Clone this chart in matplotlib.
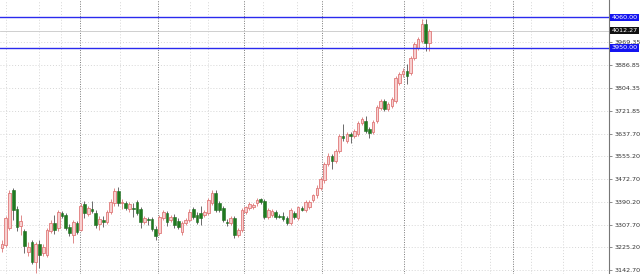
import numpy as np
import matplotlib
matplotlib.use('Agg')
from matplotlib import pyplot as plt
import matplotlib.transforms as mtransforms

# OHLC values (one candle per bar)
opens = [3222, 3233, 3294, 3432, 3363, 3302, 3284, 3208, 3244, 3172,
         3237, 3204, 3197, 3284, 3312, 3294, 3349, 3341, 3298, 3269,
         3312, 3287, 3381, 3345, 3363, 3349, 3309, 3323, 3316, 3352,
         3385, 3428, 3385, 3385, 3363, 3367, 3388, 3363, 3316, 3327,
         3327, 3291, 3276, 3331, 3349, 3323, 3334, 3320, 3280, 3312,
         3323, 3363, 3341, 3349, 3341, 3349, 3385, 3424, 3385, 3367,
         3316, 3312, 3331, 3269, 3287, 3352, 3367, 3370, 3385, 3399,
         3392, 3334, 3341, 3352, 3338, 3338, 3331, 3312, 3348, 3330,
         3367, 3359, 3370, 3396, 3414, 3439, 3468, 3529, 3558, 3540,
         3576, 3630, 3612, 3638, 3630, 3638, 3677, 3685, 3656, 3645,
         3685, 3731, 3757, 3728, 3739, 3757, 3822, 3854, 3865, 3858,
         3912, 3948, 3973, 4035, 3966]
closes = [3237, 3331, 3424, 3359, 3298, 3320, 3229, 3226, 3172, 3237,
          3197, 3226, 3287, 3312, 3287, 3352, 3338, 3294, 3276, 3316,
          3280, 3377, 3349, 3367, 3356, 3305, 3327, 3316, 3352, 3388,
          3428, 3385, 3388, 3367, 3381, 3363, 3349, 3316, 3331, 3323,
          3291, 3266, 3334, 3352, 3316, 3334, 3305, 3298, 3312, 3323,
          3352, 3334, 3316, 3331, 3352, 3396, 3424, 3359, 3359, 3323,
          3312, 3331, 3269, 3287, 3359, 3370, 3381, 3378, 3396, 3388,
          3334, 3359, 3356, 3334, 3334, 3327, 3312, 3359, 3334, 3370,
          3359, 3388, 3388, 3414, 3442, 3475, 3529, 3558, 3540, 3576,
          3630, 3623, 3638, 3630, 3648, 3677, 3692, 3648, 3641, 3681,
          3735, 3757, 3728, 3746, 3764, 3840, 3854, 3865, 3847, 3912,
          3963, 3981, 4038, 3966, 4012.27]
highs = [3251, 3338, 3435, 3439, 3377, 3341, 3291, 3244, 3251, 3244,
         3251, 3237, 3294, 3323, 3341, 3359, 3356, 3349, 3309, 3323,
         3320, 3385, 3392, 3374, 3392, 3359, 3338, 3338, 3359, 3399,
         3439, 3446, 3399, 3392, 3388, 3385, 3396, 3370, 3338, 3334,
         3334, 3302, 3341, 3359, 3356, 3341, 3345, 3331, 3320, 3331,
         3363, 3370, 3352, 3377, 3359, 3403, 3432, 3435, 3392, 3374,
         3327, 3338, 3338, 3294, 3367, 3377, 3388, 3385, 3406, 3406,
         3399, 3367, 3363, 3359, 3345, 3352, 3338, 3367, 3356, 3377,
         3374, 3396, 3396, 3420, 3450, 3482, 3536, 3569, 3565, 3583,
         3638, 3674, 3645, 3645, 3656, 3684, 3699, 3703, 3663, 3688,
         3742, 3764, 3764, 3753, 3771, 3847, 3861, 3876, 3890, 3919,
         3970, 3988, 4053, 4053, 4017]
lows = [3208, 3226, 3287, 3323, 3284, 3269, 3204, 3193, 3164, 3133,
        3150, 3193, 3190, 3276, 3273, 3284, 3331, 3287, 3266, 3240,
        3273, 3284, 3331, 3338, 3349, 3294, 3287, 3298, 3309, 3345,
        3377, 3377, 3363, 3359, 3352, 3334, 3341, 3294, 3309, 3305,
        3284, 3251, 3269, 3323, 3302, 3316, 3294, 3291, 3269, 3305,
        3316, 3327, 3309, 3305, 3334, 3341, 3378, 3352, 3352, 3316,
        3302, 3305, 3258, 3262, 3280, 3345, 3359, 3363, 3377, 3381,
        3327, 3327, 3334, 3327, 3331, 3320, 3305, 3305, 3327, 3323,
        3356, 3352, 3363, 3388, 3406, 3432, 3460, 3522, 3511, 3533,
        3569, 3612, 3605, 3605, 3623, 3630, 3670, 3641, 3623, 3638,
        3677, 3724, 3721, 3721, 3731, 3750, 3815, 3843, 3818, 3850,
        3905, 3941, 3966, 3937, 3937]

ytick_vals = [3142.70, 3225.20, 3307.70, 3390.20, 3472.70, 3555.20,
              3637.70, 3721.85, 3804.35, 3886.85, 3969.35]
level_hi = 4060.00
level_lo = 3950.00
last_price = 4012.27

# vertical grid (bar index): period separators and plain grid
sep_idx = [20.8, 41.6, 64.5, 85.3, 107.2, 136.3]
grid_idx = [1.1, 9.9, 15.7, 31.5, 50.1, 54.9, 69.6, 78.7, 93.3, 112.3,
            122.4, 130.1, 141.1, 149.6, 157.3]

o = np.array(opens); c = np.array(closes)
h = np.array(highs); l = np.array(lows)
x = np.arange(len(o))
up = c >= o

fig = plt.figure(figsize=(6.4, 2.74), dpi=100)
ax = fig.add_axes([0, 0, 609/640, 1])
ax.set_xlim(-0.53, 161.9)
ax.set_ylim(3128.2, 4123.5)

# grid
for v in ytick_vals:
    ax.axhline(v, color='#d6d6d6', lw=0.7, ls=(0, (1, 2)), zorder=0)
for v in grid_idx:
    ax.axvline(v, color='#d6d6d6', lw=0.7, ls=(0, (1, 2)), zorder=0)
for v in sep_idx:
    ax.axvline(v, color='#777777', lw=0.7, ls=(0, (1, 1.5)), zorder=0)

# candles
ax.vlines(x[up], l[up], h[up], color='#e08a8a', lw=0.7, zorder=2)
ax.vlines(x[~up], l[~up], h[~up], color='#6a6a6a', lw=0.7, zorder=2)
body_lo = np.minimum(o, c)
body_h = np.maximum(np.abs(c - o), 2.5)
ax.bar(x[up], body_h[up], bottom=body_lo[up], width=0.7,
       color='#f7d0d0', edgecolor='#e07878', lw=0.6, zorder=3)
ax.bar(x[~up], body_h[~up], bottom=body_lo[~up], width=0.7,
       color='#1f7a1f', edgecolor='#1f6a1f', lw=0.4, zorder=3)

# price levels
ax.axhline(last_price, color='#c8c8c8', lw=0.6, zorder=1)
ax.axhline(level_hi, color='#2a2aee', lw=1.0, zorder=4)
ax.axhline(level_lo, color='#2a2aee', lw=1.0, zorder=4)

# right axis
for s in ['top', 'left', 'bottom']:
    ax.spines[s].set_visible(False)
ax.spines['right'].set_color('#777777')
ax.spines['right'].set_linewidth(0.8)
ax.set_xticks([])
ax.yaxis.tick_right()
ax.set_yticks(ytick_vals)
ax.set_yticklabels(['%.2f' % v for v in ytick_vals])
ax.tick_params(axis='y', length=2.5, width=0.6, color='#777777',
               labelsize=4.6, labelcolor='#333333', pad=1.5)

trans = mtransforms.blended_transform_factory(ax.transAxes, ax.transData)
for val, col in [(level_hi, '#1414f0'), (last_price, '#111111'), (level_lo, '#1414f0')]:
    ax.text(1.004, val, '%.2f' % val, transform=trans, fontsize=4.6,
            color='white', va='center', ha='left', zorder=10, clip_on=False,
            bbox=dict(boxstyle='square,pad=0.2', fc=col, ec=col, lw=0))

fig.savefig('out.png', dpi=100)
